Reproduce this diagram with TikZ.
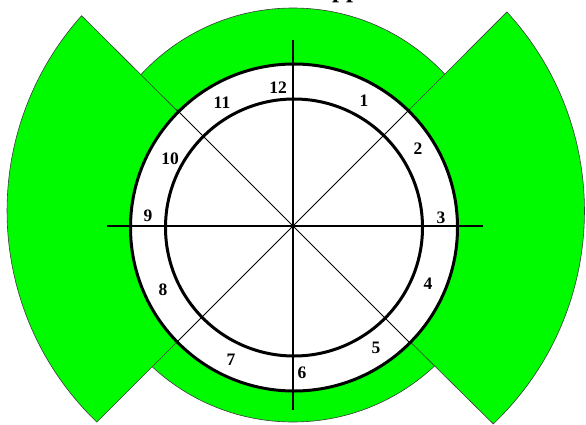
\documentclass[tikz,border=0pt]{standalone}
\usepackage{fontspec}
\setmainfont{Liberation Serif}
\definecolor{wgreen}{RGB}{0,250,0}
\definecolor{edgegray}{RGB}{60,60,60}
\begin{document}
\begin{tikzpicture}[x=1pt,y=-1pt,
  greenfill/.style={fill=wgreen,draw=edgegray,line width=0.6pt},
  ring/.style={draw=black,line width=3pt,fill=white},
  axis/.style={draw=black,line width=1.4pt},
  diag/.style={draw=black,line width=0.9pt},
  num/.style={font=\fontsize{17.5}{19}\selectfont\bfseries,inner sep=0pt}]
\useasboundingbox (0,0) rectangle (586,425);
% partial title (cut off by the top edge, as in the reference)
\node[anchor=base west,inner sep=0pt,font=\fontsize{25}{27}\selectfont\bfseries] (title) at (332,-2.4) {pp};
% green disc
\coordinate (gc) at (293,215);
\filldraw[greenfill] (gc) circle[radius=207];
% wedges
\coordinate (O) at (293,226);
\coordinate (A) at (81.6,15.7);
\coordinate (D) at (506.9,12);
\filldraw[greenfill] (O) -- (A) arc[start angle=221.8,end angle=133.9,radius=293] -- cycle;
\filldraw[greenfill] (O) -- (D) arc[start angle=-42.6,end angle=46.4,radius=294] -- cycle;
% rings
\coordinate (rc) at (294,227.5);
\filldraw[ring] (rc) circle[radius=163.5];
\draw[ring] (rc) circle[radius=128.5];
% lines
\coordinate (h1) at (107,226);
\coordinate (h2) at (483,226);
\coordinate (v1) at (293,40);
\coordinate (v2) at (293,410);
\draw[axis] (h1) -- (h2);
\draw[axis] (v1) -- (v2);
\draw[diag] (O) ++(-116.5,-116.5) coordinate (d1) -- (O);
\draw[diag] (O) -- ++(116.5,116.5) coordinate (d2);
\draw[diag] (O) ++(116.5,-116.5) coordinate (d3) -- (O);
\draw[diag] (O) -- ++(-116.5,116.5) coordinate (d4);
% numbers
\node[num] (n12) at (278,88) {12};
\node[num] (n11) at (222,103) {11};
\node[num] (n10) at (170,159) {10};
\node[num] (n9) at (148,216) {9};
\node[num] (n1) at (364,101) {1};
\node[num] (n2) at (418,149) {2};
\node[num] (n3) at (441,218) {3};
\node[num] (n4) at (428,284) {4};
\node[num] (n5) at (376,348) {5};
\node[num] (n6) at (302,373) {6};
\node[num] (n7) at (231,360) {7};
\node[num] (n8) at (163,290) {8};
\end{tikzpicture}
\end{document}
